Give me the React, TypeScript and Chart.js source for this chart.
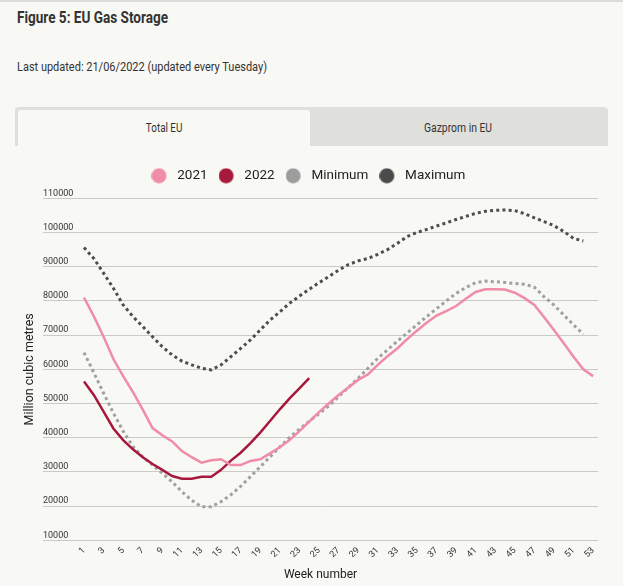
import React, { useEffect, useRef } from "react";
import { Chart, registerables } from "chart.js";

Chart.register(...registerables);

// ---------- data ----------
const weeks = [
  1, 2, 3, 4, 5, 6, 7, 8, 9, 10, 11, 12, 13, 14, 15, 16, 17, 18, 19, 20, 21, 22, 23, 24, 25, 26,
  27, 28, 29, 30, 31, 32, 33, 34, 35, 36, 37, 38, 39, 40, 41, 42, 43, 44, 45, 46, 47, 48, 49, 50,
  51, 52, 53,
];
const weekTicks = [1, 3, 5, 7, 9, 11, 13, 15, 17, 19, 21, 23, 25, 27, 29, 31, 33, 35, 37, 39, 41, 43, 45, 47, 49, 51, 53];
const yTicks = [10000, 20000, 30000, 40000, 50000, 60000, 70000, 80000, 90000, 100000, 110000];

const storage2021 = [
  81000, 75500, 69500, 63000, 58000, 53300, 48200, 42800, 40700, 38900,
  36100, 34300, 32700, 33400, 33700, 32000, 32000, 33200, 33700, 35400,
  37200, 39300, 41900, 44700, 47500, 50000, 52500, 54700, 56900, 58500,
  61300, 63800, 66100, 68800, 71300, 73600, 75700, 77000, 78500, 80600,
  82600, 83400, 83400, 83300, 82400, 80800, 78800, 75200, 71500, 67600,
  63700, 60000, 58000,
];
const storage2022 = [
  56400, 52500, 47600, 42700, 39300, 36600, 34300, 32300, 30600, 28800,
  28000, 28000, 28600, 28600, 30600, 33300, 35600, 38400, 41500, 44900,
  48300, 51500, 54400, 57400,
];
const storageMin = [
  64900, 59000, 53000, 47200, 41900, 37400, 34400, 32000, 29600, 27100,
  24200, 21700, 19800, 19800, 21300, 23300, 25800, 28600, 31500, 34400,
  37300, 40100, 42500, 44800, 47000, 49300, 52000, 54700, 57400, 60300,
  63200, 65700, 68200, 70600, 73000, 75400, 77700, 80000, 82200, 83900,
  85300, 85800, 85600, 85400, 85100, 84900, 84000, 81200, 78800, 75900,
  73000, 70300,
];
const storageMax = [
  95600, 92400, 88100, 83700, 78800, 75400, 72500, 69500, 66600, 64200,
  62400, 61300, 60300, 59800, 61300, 63700, 66100, 68600, 71500, 74400,
  76800, 79300, 81400, 83400, 85300, 87100, 89000, 90600, 91700, 92400,
  93600, 95000, 96800, 98800, 100000, 100900, 101900, 102800, 103800, 104700,
  105600, 106200, 106500, 106600, 106400, 105500, 104300, 103200, 102000, 100300,
  98300, 97500,
];

const seriesLabels = ["2021", "2022", "Minimum", "Maximum"];
const seriesColors = ["#f08ca8", "#a6193c", "#9d9d9d", "#4b4b4b"];

// ---------- styles ----------
const BG = "#f8f8f4";
const SANS = 'Roboto, "Noto Sans", sans-serif';

function pts(vals: number[]) {
  return vals.map((v, i) => ({ x: weeks[i], y: v }));
}

function makeDot(color: string): HTMLCanvasElement {
  const c = document.createElement("canvas");
  c.width = 19;
  c.height = 16;
  const ctx = c.getContext("2d")!;
  ctx.fillStyle = color;
  ctx.beginPath();
  ctx.arc(7.5, 8, 7.5, 0, Math.PI * 2);
  ctx.fill();
  return c;
}

const legendGap = {
  id: "legendGap",
  beforeInit(chart: any) {
    const lg = chart.legend;
    if (!lg) return;
    const orig = lg.fit;
    lg.fit = function () {
      orig.call(this);
      this.height += 5.8;
    };
  },
};

// condensed text: a Roboto span squeezed to the reference width
function Cond(props: { text: string; target: number; origin: string; style: any }) {
  const r = useRef<HTMLSpanElement>(null);
  useEffect(() => {
    const el = r.current;
    if (!el) return;
    el.style.transform = "none";
    const w = el.getBoundingClientRect().width;
    if (w > 0) el.style.transform = `scaleX(${props.target / w})`;
  }, [props.text, props.target]);
  return (
    <span
      ref={r}
      style={{ display: "inline-block", whiteSpace: "nowrap", transformOrigin: props.origin, ...props.style }}
    >
      {props.text}
    </span>
  );
}

export default function App() {
  const ref = useRef<HTMLCanvasElement>(null);

  useEffect(() => {
    if (!ref.current) return;
    const dots = seriesColors.map(makeDot);
    const chart = new Chart(ref.current, {
      type: "line",
      data: {
        datasets: [
          {
            label: seriesLabels[0],
            data: pts(storage2021),
            borderColor: seriesColors[0],
            backgroundColor: seriesColors[0],
            borderWidth: 2.5,
            pointRadius: 0,
            tension: 0,
          },
          {
            label: seriesLabels[1],
            data: pts(storage2022),
            borderColor: seriesColors[1],
            backgroundColor: seriesColors[1],
            borderWidth: 2.5,
            pointRadius: 0,
            tension: 0,
          },
          {
            label: seriesLabels[2],
            data: pts(storageMin),
            borderColor: "#a0a0a0",
            backgroundColor: seriesColors[2],
            borderWidth: 3,
            borderDash: [3, 3.2],
            borderCapStyle: "butt",
            pointRadius: 0,
            tension: 0,
          },
          {
            label: seriesLabels[3],
            data: pts(storageMax),
            borderColor: "#4d4d4d",
            backgroundColor: seriesColors[3],
            borderWidth: 3,
            borderDash: [3, 3.2],
            borderCapStyle: "butt",
            pointRadius: 0,
            tension: 0,
          },
        ],
      },
      options: {
        animation: false,
        responsive: true,
        maintainAspectRatio: false,
        layout: { padding: { left: 18.8, right: 25, top: 8, bottom: 4 } },
        plugins: {
          tooltip: { enabled: false },
          legend: {
            position: "top",
            align: "center",
            labels: {
              usePointStyle: true,
              pointStyleWidth: 19,
              boxHeight: 14,
              padding: 11,
              color: "#222",
              font: { family: SANS, size: 13.5 },
              generateLabels: (ch: any) =>
                ch.data.datasets.map((ds: any, i: number) => ({
                  text: ds.label,
                  fillStyle: seriesColors[i],
                  strokeStyle: seriesColors[i],
                  lineWidth: 0,
                  pointStyle: dots[i],
                  hidden: false,
                  datasetIndex: i,
                  fontColor: "#222",
                })),
            },
          },
        },
        scales: {
          x: {
            type: "linear",
            min: -3.19,
            max: 53.5,
            afterBuildTicks: (s: any) => {
              s.ticks = weekTicks.map((v) => ({ value: v }));
            },
            afterFit: (s: any) => {
              s.height = 41.7;
              s.paddingLeft = 0;
              s.paddingRight = 0;
            },
            grid: { display: false, drawTicks: false },
            border: { display: false },
            ticks: {
              autoSkip: false,
              maxRotation: 45,
              minRotation: 45,
              padding: 5,
              color: "#333",
              font: { family: SANS, size: 9 },
              callback: (v: any) => String(v),
            },
            title: {
              display: true,
              text: "Week number",
              color: "#222",
              font: { family: SANS, size: 12 },
              padding: { top: 0, bottom: 0 },
            },
          },
          y: {
            min: 10000,
            max: 110000,
            afterBuildTicks: (s: any) => {
              s.ticks = yTicks.map((v) => ({ value: v }));
            },
            afterFit: (s: any) => {
              s.width = 24.2;
              s.paddingTop = 0;
              s.paddingBottom = 0;
            },
            grid: { color: "#cacac6", lineWidth: 1, drawTicks: false },
            border: { display: false },
            ticks: {
              mirror: true,
              padding: 0,
              labelOffset: -5,
              color: "#333",
              font: { family: SANS, size: 9 },
              callback: (v: any) => String(v),
            },
            title: {
              display: true,
              text: "Million cubic metres",
              color: "#222",
              font: { family: SANS, size: 12.5 },
              padding: { top: 4, bottom: 0 },
            },
          },
        },
      },
      plugins: [legendGap],
    } as any);
    return () => chart.destroy();
  }, []);

  return (
    <div
      style={{
        position: "fixed",
        left: 0,
        top: 0,
        width: 623,
        height: 586,
        background: BG,
        overflow: "hidden",
        fontFamily: SANS,
        color: "#333",
      }}
    >
      <div style={{ position: "absolute", left: 0, top: 0, width: 623, height: 2, background: "#dcdcd8" }} />
      <div style={{ position: "absolute", left: 17, top: 9.5, lineHeight: 1 }}>
        <Cond
          text="Figure 5: EU Gas Storage"
          target={151}
          origin="left center"
          style={{ fontSize: 16.5, fontWeight: 700, color: "#333" }}
        />
      </div>
      <div style={{ position: "absolute", left: 17, top: 58, lineHeight: 1 }}>
        <Cond
          text="Last updated: 21/06/2022 (updated every Tuesday)"
          target={250}
          origin="left center"
          style={{ fontSize: 12.5, color: "#333" }}
        />
      </div>
      <div
        style={{
          position: "absolute",
          left: 15,
          top: 107,
          width: 593,
          height: 39,
          background: "#dfdfdb",
          borderRadius: "4px 4px 0 0",
        }}
      >
        <div
          style={{
            position: "absolute",
            left: 3,
            top: 3,
            width: 292,
            height: 36,
            background: BG,
            borderRadius: "3px 3px 0 0",
            display: "flex",
            alignItems: "center",
            justifyContent: "center",
            lineHeight: 1,
          }}
        >
          <Cond text="Total EU" target={36.5} origin="center center" style={{ fontSize: 12.5, color: "#333" }} />
        </div>
        <div
          style={{
            position: "absolute",
            left: 295,
            top: 3,
            width: 297,
            height: 36,
            display: "flex",
            alignItems: "center",
            justifyContent: "center",
            lineHeight: 1,
          }}
        >
          <Cond text="Gazprom in EU" target={68} origin="center center" style={{ fontSize: 12.5, color: "#333" }} />
        </div>
      </div>
      <div style={{ position: "absolute", left: 0, top: 150, width: 623, height: 436 }}>
        <canvas ref={ref} />
      </div>
    </div>
  );
}
